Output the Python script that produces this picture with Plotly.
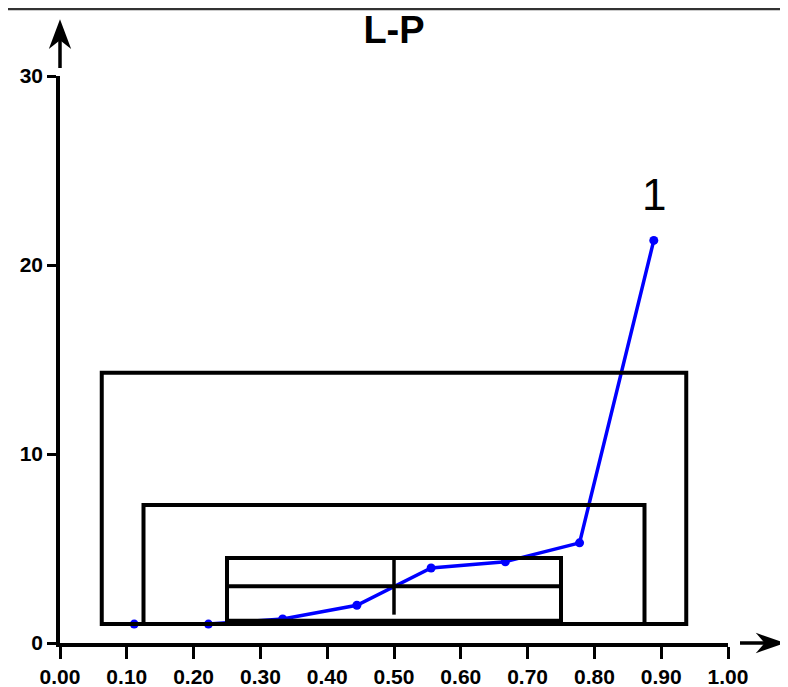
import plotly.graph_objects as go

# data
x_vals = [1/9, 2/9, 3/9, 4/9, 5/9, 6/9, 7/9, 8/9]
y_vals = [1.0, 1.0, 1.27, 2.0, 3.97, 4.3, 5.3, 21.3]

# letter-value boxes: (x_left, x_right, y_bottom, y_top)
box_x_left = [0.0625, 0.125, 0.25]
box_x_right = [0.9375, 0.875, 0.75]
box_y_bottom = [1.0, 1.0, 1.18]
box_y_top = [14.3, 7.3, 4.5]
median_y = 3.0
median_x = 0.5
median_v_range = [1.5, 4.4]

x_ticks = [round(i * 0.1, 2) for i in range(11)]
y_ticks = [0, 10, 20, 30]

# page body has an 8px margin, so the figure is offset by 8px
OFF = 8
W, H = 788 - OFF, 687 - OFF
ML, MT = 60 - OFF, 76 - OFF
MR = W - (728 - OFF)
MB = H - (643 - OFF)
PW, PH = 668, 567

def px_x(px):  # window pixel -> paper
    return (px - 60) / PW

def px_y(py):
    return (643 - py) / PH

fig = go.Figure()
fig.add_trace(go.Scatter(
    x=x_vals, y=y_vals, mode="lines+markers",
    line=dict(color="#0000FF", width=3.5),
    marker=dict(color="#0000FF", size=9, symbol="circle"),
    showlegend=False, cliponaxis=False,
))

shapes = []
for xl, xr, yb, yt in zip(box_x_left, box_x_right, box_y_bottom, box_y_top):
    shapes.append(dict(type="rect", xref="x", yref="y", x0=xl, x1=xr, y0=yb, y1=yt,
                       line=dict(color="black", width=4)))
# thick bottom band of inner box
shapes.append(dict(type="rect", xref="x", yref="y", x0=box_x_left[2], x1=box_x_right[2],
                   y0=box_y_bottom[0], y1=box_y_bottom[2], fillcolor="black",
                   line=dict(color="black", width=3)))
shapes.append(dict(type="line", xref="x", yref="y", x0=box_x_left[2], x1=box_x_right[2],
                   y0=median_y, y1=median_y, line=dict(color="black", width=4)))
shapes.append(dict(type="line", xref="x", yref="y", x0=median_x, x1=median_x,
                   y0=median_v_range[0], y1=median_v_range[1], line=dict(color="black", width=3.5)))

# axis arrows (paper coordinates)
shapes.append(dict(type="line", xref="paper", yref="paper", x0=0, x1=0,
                   y0=px_y(68), y1=px_y(36), line=dict(color="black", width=3.5)))
yarrow = "M {},{} L {},{} L {},{} L {},{} Z".format(
    0, px_y(22), px_x(69), px_y(46), 0, px_y(39), px_x(51), px_y(46))
shapes.append(dict(type="path", xref="paper", yref="paper", path=yarrow,
                   fillcolor="black", line=dict(color="black", width=2)))
shapes.append(dict(type="line", xref="paper", yref="paper", x0=px_x(740), x1=px_x(768),
                   y0=0, y1=0, line=dict(color="black", width=3.5)))
xarrow = "M {},{} L {},{} L {},{} L {},{} Z".format(
    px_x(782), 0, px_x(759), px_y(635), px_x(766), 0, px_x(759), px_y(651))
shapes.append(dict(type="path", xref="paper", yref="paper", path=xarrow,
                   fillcolor="black", line=dict(color="black", width=2)))
# top border line
shapes.append(dict(type="line", xref="paper", yref="paper", x0=px_x(OFF), x1=px_x(788),
                   y0=px_y(OFF + 1), y1=px_y(OFF + 1), line=dict(color="#333333", width=2.5)))

tickfont = dict(family="Liberation Sans Narrow, Arial Narrow, Liberation Sans", size=21,
                color="black", weight="bold")

fig.update_layout(
    width=W, height=H,
    margin=dict(l=ML, r=MR, t=MT, b=MB, autoexpand=False),
    paper_bgcolor="white", plot_bgcolor="white",
    shapes=shapes,
    title=dict(text="<b>L-P</b>", x=px_x(394), xref="paper", y=1 - (30 - OFF) / H,
               yanchor="middle", xanchor="center", automargin=False,
               font=dict(family="Liberation Sans, Arial", size=38, color="black")),
    annotations=[dict(text="1", x=x_vals[-1], y=23.75, xref="x", yref="y", showarrow=False,
                      font=dict(family="Liberation Sans, Arial", size=44, color="black"))],
    xaxis=dict(range=[0, 1], tickvals=x_ticks, tickformat=".2f", showgrid=False, zeroline=False,
               showline=True, linecolor="black", linewidth=3.5, ticks="outside", ticklen=12,
               tickwidth=3, tickcolor="black", tickfont=tickfont, automargin=False),
    yaxis=dict(range=[0, 30], tickvals=y_ticks, showgrid=False, zeroline=False,
               showline=True, linecolor="black", linewidth=3.5, ticks="outside", ticklen=9,
               tickwidth=3, tickcolor="black", tickfont=tickfont, automargin=False),
)

fig.write_html("out.html")
